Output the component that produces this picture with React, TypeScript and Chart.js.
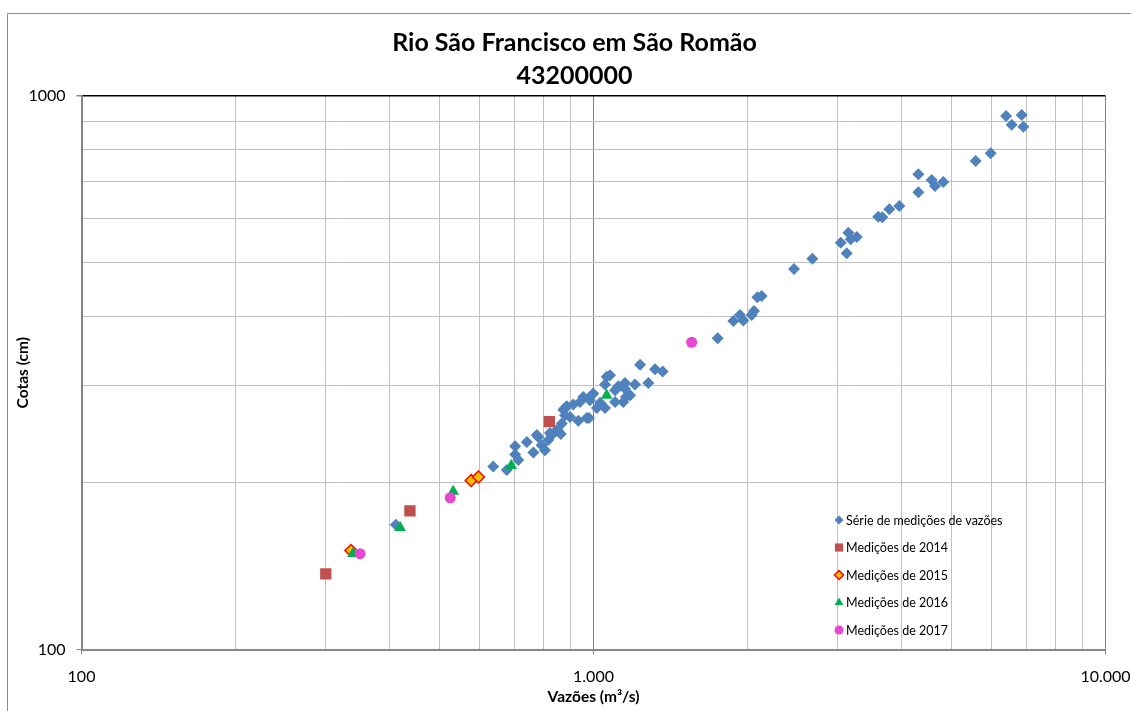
import React, { useEffect, useRef } from "react";
import { Chart, registerables } from "chart.js";
import { drawPoint } from "chart.js/helpers";

Chart.register(...registerables);

const titleLines = ["Rio São Francisco em São Romão", "43200000"];
const xAxisTitle = "Vazões (m³/s)";
const yAxisTitle = "Cotas (cm)";

const xTickValues = [100, 200, 300, 400, 500, 600, 700, 800, 900, 1000, 2000, 3000, 4000, 5000, 6000, 7000, 8000, 9000, 10000];
const yTickValues = [100, 200, 300, 400, 500, 600, 700, 800, 900, 1000];
const xMajorValues = [100, 1000, 10000];
const xMajorLabels = ["100", "1.000", "10.000"];
const yMajorValues = [100, 1000];
const yMajorLabels = ["100", "1000"];

const seriesNames = [
  "Série de medições de vazões",
  "Medições de 2014",
  "Medições de 2015",
  "Medições de 2016",
  "Medições de 2017",
];

const serieX = [
  411, 637, 677, 703, 703, 713, 741, 763, 775, 780, 792, 804, 816, 822, 829, 847, 854, 863, 867, 873,
  880, 880, 887, 900, 913, 934, 941, 955, 970, 980, 984, 992, 999, 1015, 1030, 1053, 1053, 1061, 1077, 1102,
  1102, 1118, 1143, 1152, 1152, 1157, 1179, 1205, 1233, 1280, 1319, 1365, 1748, 1876, 1932, 1962, 2037, 2058,
  2089, 2130, 2464, 2676, 3040, 3123, 3146, 3179, 3267, 3599, 3665, 3782, 3957, 4310, 4310, 4576, 4645, 4822,
  5578, 5967, 6394, 6559, 6860, 6911,
];
const serieY = [
  168, 214, 211, 233, 225, 220, 237, 227, 244, 242, 234, 229, 239, 246, 244, 249, 248, 245, 256, 271,
  273, 265, 275, 263, 277, 259, 280, 286, 262, 262, 282, 288, 290, 273, 279, 273, 301, 311, 313, 280,
  294, 299, 280, 303, 296, 286, 288, 301, 327, 303, 321, 318, 365, 392, 402, 393, 402, 409,
  433, 435, 487, 508, 543, 520, 566, 551, 556, 605, 604, 624, 633, 722, 670, 705, 688, 699,
  763, 788, 920, 887, 924, 880,
];

const m2014X = [300, 438, 820];
const m2014Y = [137, 178, 258];
const m2015X = [336, 577, 596];
const m2015Y = [151, 202, 205];
const m2016X = [339, 419, 532, 691, 1061];
const m2016Y = [149, 166, 193, 215, 288];
const m2017X = [350, 525, 1555];
const m2017Y = [149, 188, 359];

const FONT = "Lato";

const toPoints = (xs: number[], ys: number[]) => xs.map((x, i) => ({ x, y: ys[i] }));

const styles = [
  { pointStyle: "rectRot", bg: "#4F81BD", border: "#4F81BD", bw: 0, r: 6, lr: 4.5 },
  { pointStyle: "rect", bg: "#C0504D", border: "#C0504D", bw: 0, r: 8, lr: 5.8 },
  { pointStyle: "rectRot", bg: "#FFC000", border: "#FF0000", bw: 1.5, r: 6, lr: 4.5 },
  { pointStyle: "triangle", bg: "#00B050", border: "#00B050", bw: 0, r: 6.8, lr: 5 },
  { pointStyle: "circle", bg: "#EA47D0", border: "#EA47D0", bw: 0, r: 5.5, lr: 4.5 },
];

const legendPlugin = {
  id: "insideLegend",
  afterDraw(chart: any) {
    const ctx = chart.ctx;
    ctx.save();
    ctx.font = `12.5px ${FONT}`;
    ctx.textBaseline = "middle";
    ctx.textAlign = "left";
    seriesNames.forEach((name, i) => {
      const s = styles[i];
      const y = 520 + i * 27.5;
      ctx.fillStyle = s.bg;
      ctx.strokeStyle = s.border;
      ctx.lineWidth = s.bw;
      drawPoint(ctx, { pointStyle: s.pointStyle as any, radius: s.lr, borderWidth: s.bw, rotation: 0 }, 839, y);
      ctx.fillStyle = "#000000";
      ctx.fillText(name, 846, y + 0.5);
    });
    ctx.restore();
  },
};

function ChartCanvas() {
  const ref = useRef<HTMLCanvasElement | null>(null);
  useEffect(() => {
    if (!ref.current) return;
    const seriesData = [
      toPoints(serieX, serieY),
      toPoints(m2014X, m2014Y),
      toPoints(m2015X, m2015Y),
      toPoints(m2016X, m2016Y),
      toPoints(m2017X, m2017Y),
    ];
    const datasets = seriesNames.map((name, i) => ({
      label: name,
      data: seriesData[i],
      pointStyle: styles[i].pointStyle as any,
      pointRadius: styles[i].r,
      pointBackgroundColor: styles[i].bg,
      pointBorderColor: styles[i].border,
      pointBorderWidth: styles[i].bw,
      backgroundColor: styles[i].bg,
      borderColor: styles[i].border,
      showLine: false,
      order: 5 - i,
    }));

    const chart = new Chart(ref.current, {
      type: "scatter",
      data: { datasets },
      options: {
        animation: false,
        responsive: false,
        devicePixelRatio: 1,
        layout: { padding: { top: 26, left: 18, right: 0, bottom: 0 } },
        plugins: {
          legend: { display: false },
          tooltip: { enabled: false },
          title: {
            display: true,
            text: titleLines,
            color: "#000000",
            font: { family: FONT, size: 25, weight: "bold", lineHeight: 1.32 },
            padding: { top: 0, bottom: 4 },
          },
        },
        scales: {
          x: {
            type: "logarithmic",
            position: "bottom",
            min: 100,
            max: 10000,
            afterBuildTicks: (s: any) => {
              s.ticks = xTickValues.map((v) => ({ value: v, major: xMajorValues.includes(v) }));
            },
            afterFit: (s: any) => {
              s.height = 61.5;
              s.paddingLeft = 0;
              s.paddingRight = 0;
            },
            ticks: {
              autoSkip: false,
              maxRotation: 0,
              minRotation: 0,
              padding: 13,
              color: "#000000",
              font: { family: FONT, size: 16 },
              callback: (v: any) => {
                const k = xMajorValues.indexOf(Number(v));
                return k >= 0 ? xMajorLabels[k] : "";
              },
            },
            grid: {
              color: (c: any) => (c.tick && xMajorValues.includes(c.tick.value) ? "#808080" : "#C0C0C0"),
              lineWidth: 1,
              tickLength: 5,
              tickColor: (c: any) => (c.tick && xMajorValues.includes(c.tick.value) ? "#868686" : "rgba(0,0,0,0)"),
            },
            border: { color: "#868686", width: 2 },
            title: {
              display: true,
              text: xAxisTitle,
              color: "#000000",
              font: { family: FONT, size: 15.5, weight: "bold", lineHeight: 1.2 },
              padding: { top: 0, bottom: 4.7 },
            },
          },
          y: {
            type: "logarithmic",
            position: "left",
            min: 100,
            max: 1000,
            afterBuildTicks: (s: any) => {
              s.ticks = yTickValues.map((v) => ({ value: v, major: yMajorValues.includes(v) }));
            },
            afterFit: (s: any) => {
              s.width = 63.5;
              s.paddingTop = 0;
              s.paddingBottom = 0;
            },
            ticks: {
              autoSkip: false,
              padding: 11,
              color: "#000000",
              font: { family: FONT, size: 16 },
              callback: (v: any) => {
                const k = yMajorValues.indexOf(Number(v));
                return k >= 0 ? yMajorLabels[k] : "";
              },
            },
            grid: {
              color: (c: any) => (c.tick && c.tick.value === 1000 ? "#000000" : "#C0C0C0"),
              lineWidth: (c: any) => (c.tick && c.tick.value === 1000 ? 1.5 : 1),
              tickLength: 5,
              tickColor: (c: any) => (c.tick && yMajorValues.includes(c.tick.value) ? "#868686" : "rgba(0,0,0,0)"),
            },
            border: { color: "#868686", width: 2 },
            title: {
              display: true,
              text: yAxisTitle,
              color: "#000000",
              font: { family: FONT, size: 15.5, weight: "bold", lineHeight: 1.2 },
              padding: { top: -4.3, bottom: 0 },
            },
          },
          yRight: {
            type: "linear",
            position: "right",
            display: true,
            afterFit: (s: any) => {
              s.width = 25.5;
              s.paddingTop = 0;
              s.paddingBottom = 0;
            },
            ticks: { display: false },
            grid: { display: false, drawTicks: false },
            border: { display: false },
          },
        },
      } as any,
      plugins: [legendPlugin],
    });
    return () => chart.destroy();
  }, []);

  return (
    <canvas
      ref={ref}
      width={1131}
      height={711}
      style={{ position: "absolute", left: 0, top: 0, width: 1131, height: 711 }}
    />
  );
}

export default function App() {
  return (
    <div
      style={{
        position: "fixed",
        left: 0,
        top: 0,
        width: 1131,
        height: 711,
        overflow: "hidden",
        background: "#ffffff",
      }}
    >
      <div
        style={{
          position: "absolute",
          left: 7,
          top: 13,
          width: 1200,
          height: 800,
          border: "1px solid #8C8C8C",
        }}
      />
      <ChartCanvas />
    </div>
  );
}
